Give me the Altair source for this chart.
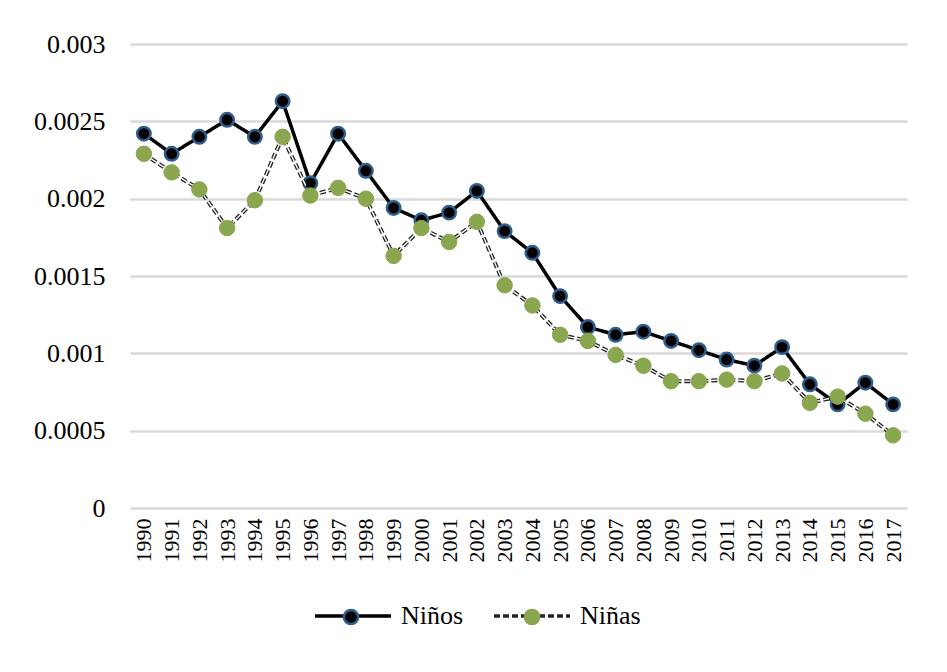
import altair as alt
import pandas as pd

years = [str(y) for y in range(1990, 2018)]
ninos = [0.00242, 0.00229, 0.00240, 0.00251, 0.00240, 0.00263, 0.00210, 0.00242,
         0.00218, 0.00194, 0.00186, 0.00191, 0.00205, 0.00179, 0.00165, 0.00137,
         0.00117, 0.00112, 0.00114, 0.00108, 0.00102, 0.00096, 0.00092, 0.00104,
         0.00080, 0.00067, 0.00081, 0.00067]
ninas = [0.00229, 0.00217, 0.00206, 0.00181, 0.00199, 0.00240, 0.00202, 0.00207,
         0.00200, 0.00163, 0.00181, 0.00172, 0.00185, 0.00144, 0.00131, 0.00112,
         0.00108, 0.00099, 0.00092, 0.00082, 0.00082, 0.00083, 0.00082, 0.00087,
         0.00068, 0.00072, 0.00061, 0.00047]
series = ["Niños", "Niñas"]
series_keys = ["a", "b"]

rows = []
for name, key, vals in [(series[0], series_keys[0], ninos), (series[1], series_keys[1], ninas)]:
    for yr, v in zip(years, vals):
        rows.append({"year": yr, "value": v, "serie": name, "key": key})
df = pd.DataFrame(rows)

FONT = "Liberation Serif"
BLUE = "#2f5d8c"
GREEN = "#8aa64f"
DASH = [6, 3]

x_enc = alt.X("year:O", sort=years,
              scale=alt.Scale(type="point", padding=0.5),
              axis=alt.Axis(title=None, labelAngle=-90, labelFontSize=22, labelFont=FONT,
                            labelColor="black", labelPadding=10, ticks=False, domain=False,
                            grid=False, labelAlign="right", labelBaseline="middle"))
y_enc = alt.Y("value:Q",
              scale=alt.Scale(domain=[0, 0.003], nice=False, zero=True),
              axis=alt.Axis(title=None, values=[0, 0.0005, 0.001, 0.0015, 0.002, 0.0025, 0.003],
                            format="~g", labelFontSize=26, labelFont=FONT, labelColor="black",
                            labelPadding=25, ticks=False, domain=False, grid=True,
                            gridColor="#d9d9d9", gridWidth=2.5))

line_legend = alt.Legend(title=None, orient="none", legendX=183, legendY=532, direction="horizontal",
                         symbolType="stroke", symbolSize=5776, symbolStrokeWidth=3.5,
                         labelFont=FONT, labelFontSize=26, labelColor="black", labelOffset=8,
                         columnPadding=23, padding=0)
color_enc = alt.Color("serie:N", scale=alt.Scale(domain=series, range=["black", "#222222"]),
                      legend=line_legend)
dash_enc = alt.StrokeDash("serie:N", scale=alt.Scale(domain=series, range=[[1, 0], DASH]),
                          legend=line_legend)

circle_legend = alt.Legend(title=None, orient="none", legendX=208, legendY=560, direction="horizontal",
                           symbolType="circle", symbolSize=200, symbolStrokeWidth=2.5,
                           labelFont=FONT, labelFontSize=26, labelOffset=0,
                           labelExpr="''",
                           columnPadding=155, padding=0)
fill_enc = alt.Fill("key:N", scale=alt.Scale(domain=series_keys, range=["black", GREEN]),
                    legend=circle_legend)
pstroke_enc = alt.Stroke("key:N", scale=alt.Scale(domain=series_keys, range=[BLUE, GREEN]),
                         legend=circle_legend)

base = alt.Chart(df)

line_ninos = base.transform_filter(alt.datum.key == "a").mark_line(strokeWidth=3.5).encode(
    x=x_enc, y=y_enc, color=color_enc, strokeDash=dash_enc)
pts_ninos = base.transform_filter(alt.datum.key == "a").mark_point(
    filled=True, size=180, strokeWidth=2.5, opacity=1).encode(
    x=x_enc, y=y_enc, fill=fill_enc, stroke=pstroke_enc)
line_ninas = base.transform_filter(alt.datum.key == "b").mark_line(strokeWidth=4).encode(
    x=x_enc, y=y_enc, color=color_enc, strokeDash=dash_enc)
line_ninas_w = base.transform_filter(alt.datum.key == "b").mark_line(strokeWidth=1.4).encode(
    x=x_enc, y=y_enc, color=alt.value("white"), strokeDash=alt.value(DASH))
pts_ninas = base.transform_filter(alt.datum.key == "b").mark_point(
    filled=True, size=240, strokeWidth=1, opacity=1).encode(
    x=x_enc, y=y_enc, fill=fill_enc, stroke=pstroke_enc)

chart = alt.layer(line_ninos, pts_ninos, line_ninas, line_ninas_w, pts_ninas).properties(
    width=777, height=464,
    padding={"left": 25, "top": 23, "right": 10, "bottom": 10},
    background="white",
).configure_view(stroke=None)

chart.save("out.html", embed_options={"renderer": "svg", "actions": False})
